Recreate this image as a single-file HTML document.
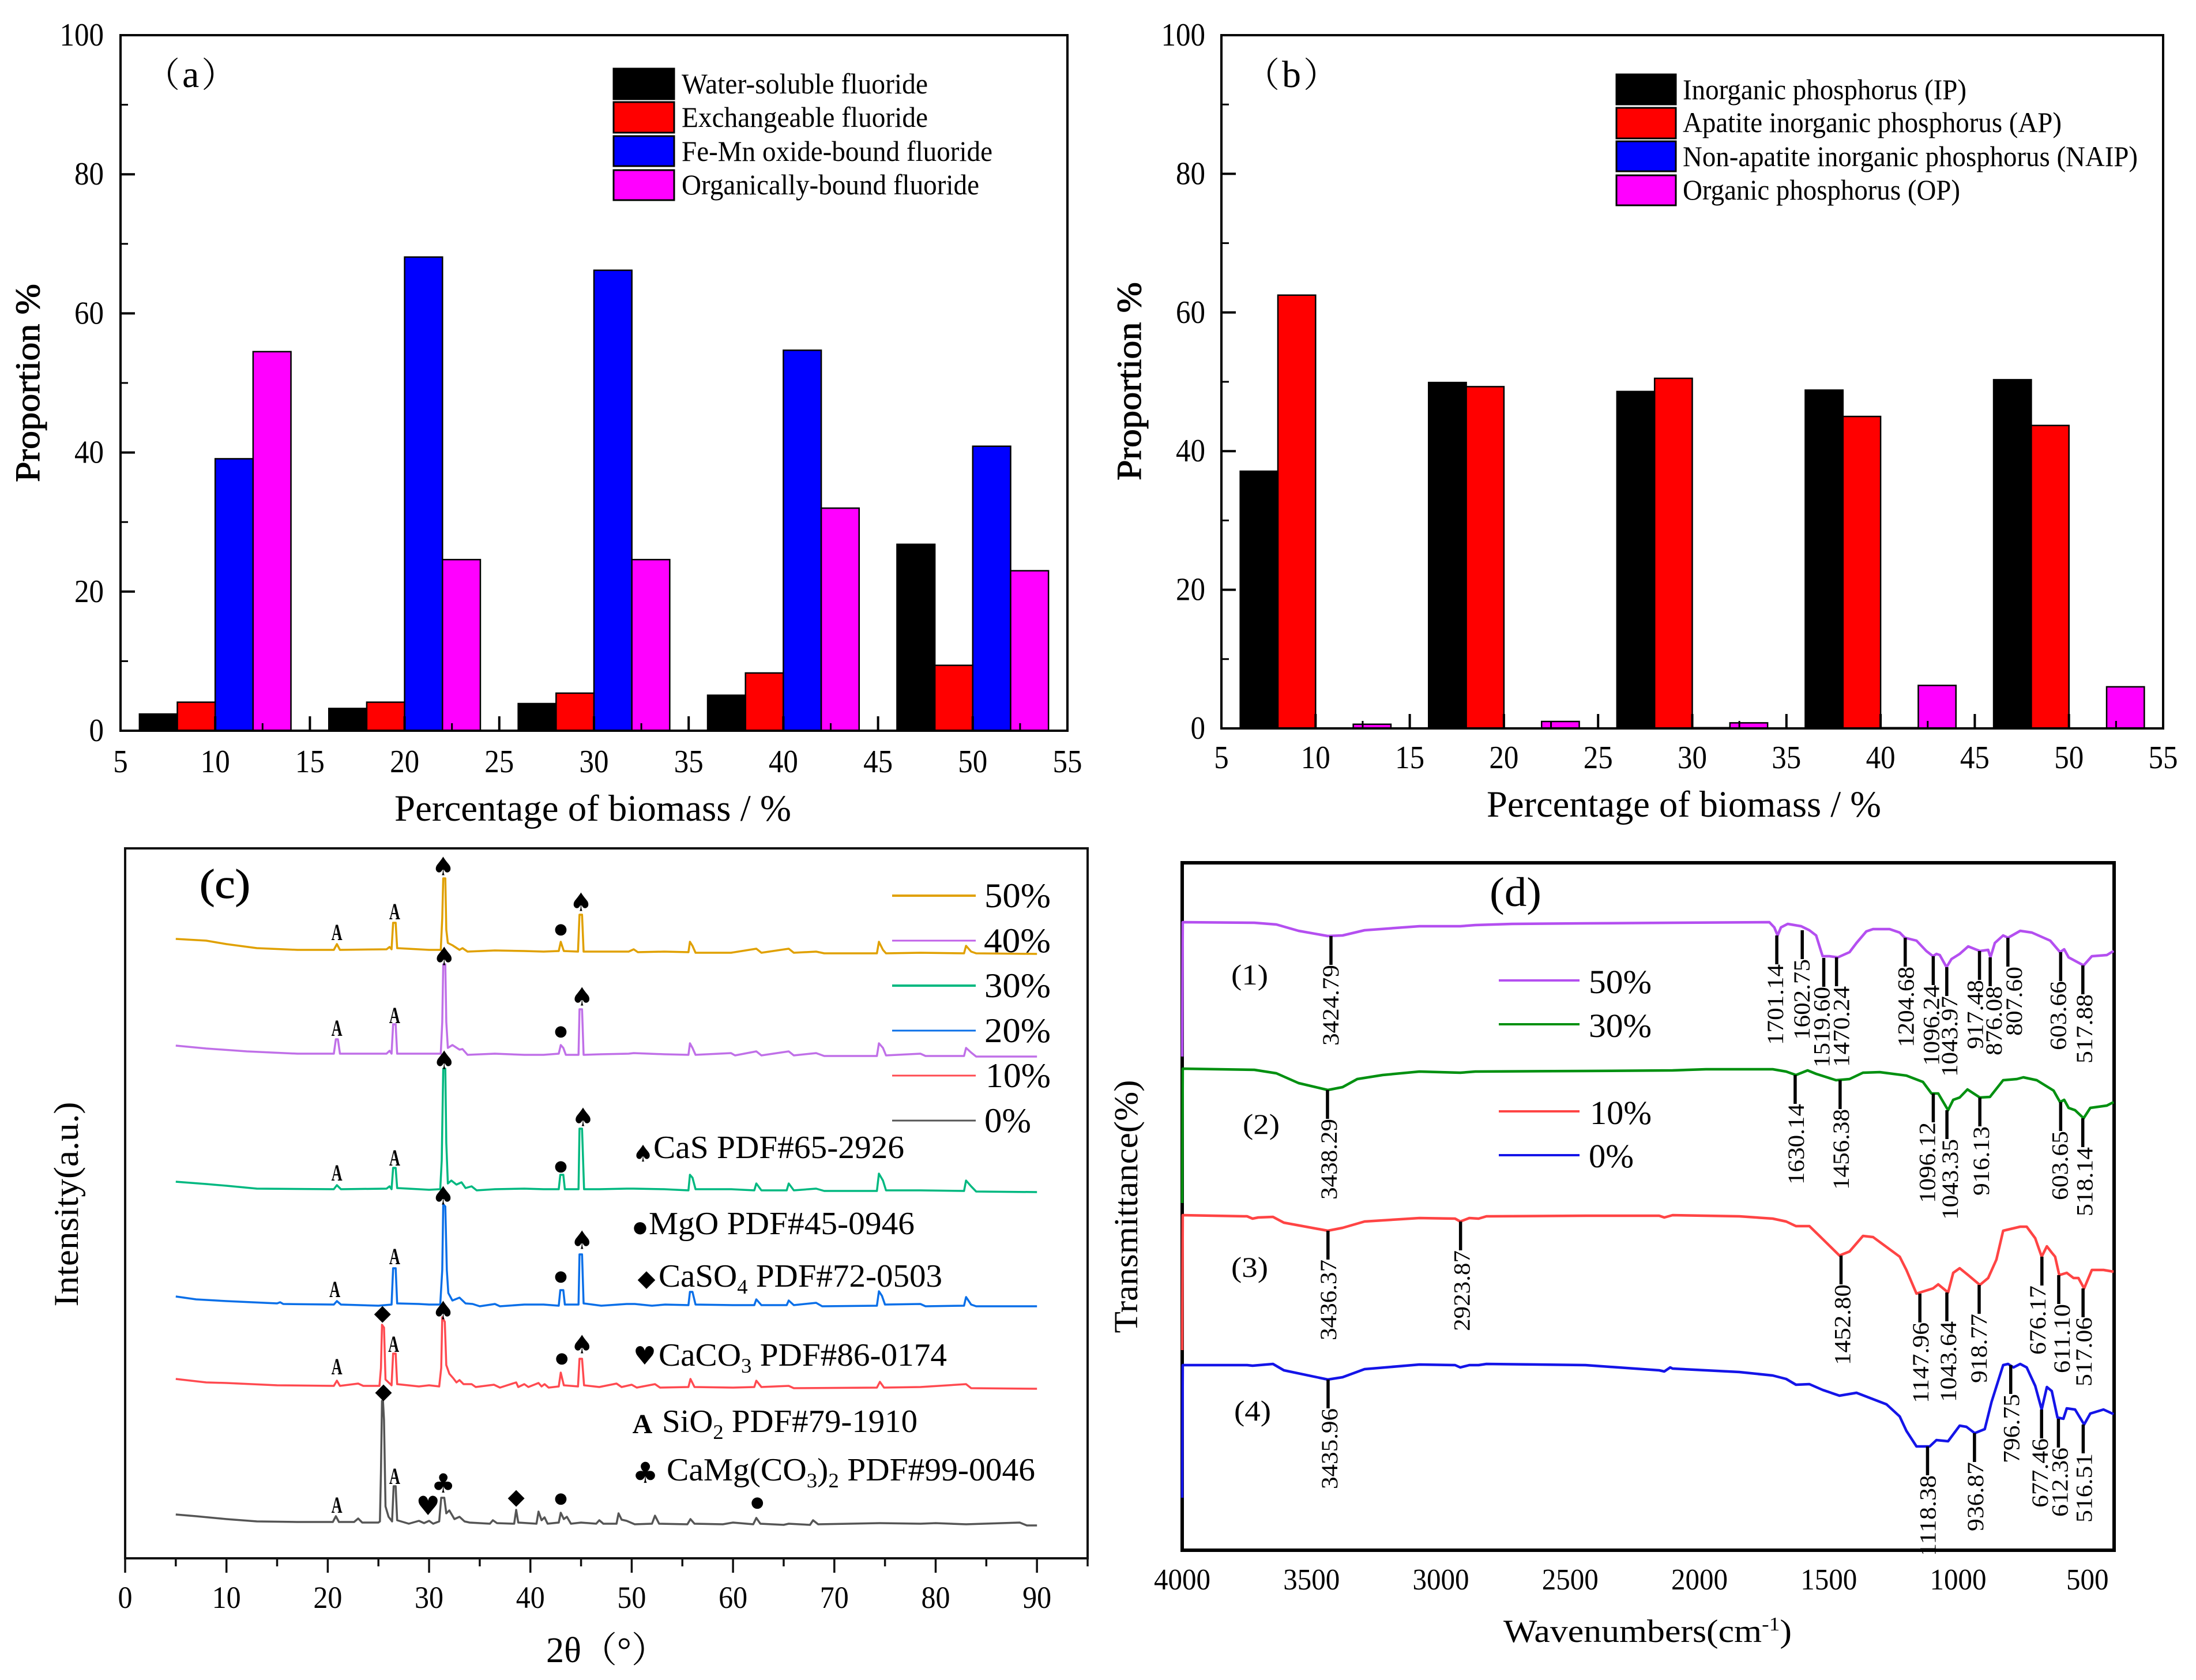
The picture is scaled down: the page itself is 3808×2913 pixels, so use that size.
<!DOCTYPE html>
<html lang="en">
<head>
<meta charset="utf-8">
<title>Biomass fluoride, phosphorus, XRD and FTIR figure</title>
<style>
html,body{margin:0;padding:0;background:#fff;}
svg{display:block;}
text{font-family:"Liberation Serif","Noto Serif CJK SC",serif;fill:#000;}
.sym{font-family:"DejaVu Sans",sans-serif;}
</style>
</head>
<body>
<svg id="figure" xmlns="http://www.w3.org/2000/svg" width="3808" height="2913" viewBox="0 0 3808 2913">
<rect x="0" y="0" width="3808" height="2913" fill="#fff"/>

<g id="panel-a">
  <g id="a-marks"></g>
  <text x="252" y="151" font-size="60">（<tspan font-size="66" dx="4">a</tspan><tspan dx="4">）</tspan></text>
  <text transform="translate(68,664) rotate(-90)" text-anchor="middle" font-size="60" textLength="344" lengthAdjust="spacingAndGlyphs" stroke="#000" stroke-width="1">Proportion %</text>
  <text x="684" y="1423" font-size="65" textLength="688" lengthAdjust="spacingAndGlyphs">Percentage of biomass / %</text>
  <g>
    <rect x="1064" y="119" width="105" height="53" fill="#000" stroke="#000" stroke-width="3"/>
    <rect x="1064" y="177" width="105" height="53" fill="#f00" stroke="#000" stroke-width="3"/>
    <rect x="1064" y="236" width="105" height="52" fill="#00f" stroke="#000" stroke-width="3"/>
    <rect x="1064" y="295" width="105" height="52" fill="#f0f" stroke="#000" stroke-width="3"/>
    <text x="1182" y="162" font-size="50" textLength="427" lengthAdjust="spacingAndGlyphs">Water-soluble fluoride</text>
    <text x="1182" y="220" font-size="50" textLength="427" lengthAdjust="spacingAndGlyphs">Exchangeable fluoride</text>
    <text x="1182" y="279" font-size="50" textLength="539" lengthAdjust="spacingAndGlyphs">Fe-Mn oxide-bound fluoride</text>
    <text x="1182" y="337" font-size="50" textLength="516" lengthAdjust="spacingAndGlyphs">Organically-bound fluoride</text>
  </g>
</g>

<g id="panel-b">
  <g id="b-marks"></g>
  <text x="2159" y="151" font-size="60">（<tspan font-size="66" dx="4">b</tspan><tspan dx="4">）</tspan></text>
  <text transform="translate(1978,661) rotate(-90)" text-anchor="middle" font-size="60" textLength="344" lengthAdjust="spacingAndGlyphs" stroke="#000" stroke-width="1">Proportion %</text>
  <text x="2578" y="1416" font-size="65" textLength="684" lengthAdjust="spacingAndGlyphs">Percentage of biomass / %</text>
  <g>
    <rect x="2803" y="129" width="103" height="52" fill="#000" stroke="#000" stroke-width="3"/>
    <rect x="2803" y="187" width="103" height="53" fill="#f00" stroke="#000" stroke-width="3"/>
    <rect x="2803" y="245" width="103" height="52" fill="#00f" stroke="#000" stroke-width="3"/>
    <rect x="2803" y="304" width="103" height="52" fill="#f0f" stroke="#000" stroke-width="3"/>
    <text x="2918" y="172" font-size="50" textLength="492" lengthAdjust="spacingAndGlyphs">Inorganic phosphorus (IP)</text>
    <text x="2918" y="229" font-size="50" textLength="657" lengthAdjust="spacingAndGlyphs">Apatite inorganic phosphorus (AP)</text>
    <text x="2918" y="288" font-size="50" textLength="789" lengthAdjust="spacingAndGlyphs">Non-apatite inorganic phosphorus (NAIP)</text>
    <text x="2918" y="346" font-size="50" textLength="481" lengthAdjust="spacingAndGlyphs">Organic phosphorus (OP)</text>
  </g>
</g>

<g id="panel-c">
  <g id="c-marks"></g>
  <text x="346" y="1557" font-size="72" textLength="88" lengthAdjust="spacingAndGlyphs" stroke="#000" stroke-width="1">(c)</text>
  <text transform="translate(135,2088) rotate(-90)" text-anchor="middle" font-size="60" textLength="355" lengthAdjust="spacingAndGlyphs">Intensity(a.u.)</text>
  <text x="947" y="2882" font-size="62" textLength="210" lengthAdjust="spacingAndGlyphs">2θ（°）</text>
  <g>
    <line x1="1547" x2="1692" y1="1553" y2="1553" stroke="#e0a000" stroke-width="4"/>
    <line x1="1547" x2="1692" y1="1631" y2="1631" stroke="#c060e8" stroke-width="3"/>
    <line x1="1547" x2="1692" y1="1709" y2="1709" stroke="#00b880" stroke-width="4"/>
    <line x1="1547" x2="1692" y1="1787" y2="1787" stroke="#0a6fe8" stroke-width="3"/>
    <line x1="1547" x2="1692" y1="1865" y2="1865" stroke="#ff4a50" stroke-width="3"/>
    <line x1="1547" x2="1692" y1="1943" y2="1943" stroke="#555" stroke-width="3"/>
    <text x="1707" y="1573" font-size="60" textLength="115" lengthAdjust="spacingAndGlyphs">50%</text>
    <text x="1706" y="1651" font-size="60" textLength="116" lengthAdjust="spacingAndGlyphs">40%</text>
    <text x="1707" y="1729" font-size="60" textLength="115" lengthAdjust="spacingAndGlyphs">30%</text>
    <text x="1707" y="1807" font-size="60" textLength="115" lengthAdjust="spacingAndGlyphs">20%</text>
    <text x="1709" y="1885" font-size="60" textLength="113" lengthAdjust="spacingAndGlyphs">10%</text>
    <text x="1707" y="1963" font-size="60" textLength="81" lengthAdjust="spacingAndGlyphs">0%</text>
  </g>
  <g>
    <text class="sym" x="1115" y="2014" font-size="40" text-anchor="middle">♠</text>
    <text x="1133" y="2008" font-size="56" textLength="435" lengthAdjust="spacingAndGlyphs">CaS PDF#65-2926</text>
    <text class="sym" x="1110" y="2137" font-size="28" text-anchor="middle">●</text>
    <text x="1125" y="2140" font-size="56" textLength="461" lengthAdjust="spacingAndGlyphs">MgO PDF#45-0946</text>
    <text class="sym" x="1121" y="2230" font-size="40" text-anchor="middle">◆</text>
    <text x="1142" y="2231" font-size="56" textLength="492" lengthAdjust="spacingAndGlyphs">CaSO<tspan font-size="36" dy="12">4</tspan><tspan dy="-12"> PDF#72-0503</tspan></text>
    <text class="sym" x="1118" y="2366" font-size="44" text-anchor="middle">♥</text>
    <text x="1142" y="2368" font-size="56" textLength="500" lengthAdjust="spacingAndGlyphs">CaCO<tspan font-size="36" dy="12">3</tspan><tspan dy="-12"> PDF#86-0174</tspan></text>
    <text x="1114" y="2485" font-size="48" font-weight="bold" text-anchor="middle">A</text>
    <text x="1148" y="2483" font-size="56" textLength="443" lengthAdjust="spacingAndGlyphs">SiO<tspan font-size="36" dy="12">2</tspan><tspan dy="-12"> PDF#79-1910</tspan></text>
    <text class="sym" x="1119" y="2571" font-size="50" text-anchor="middle">♣</text>
    <text x="1156" y="2567" font-size="56" textLength="639" lengthAdjust="spacingAndGlyphs">CaMg(CO<tspan font-size="36" dy="12">3</tspan><tspan dy="-12">)</tspan><tspan font-size="36" dy="12">2</tspan><tspan dy="-12"> PDF#99-0046</tspan></text>
  </g>
</g>

<g id="panel-d">
  <g id="d-marks"></g>
  <text x="2583" y="1571" font-size="72" textLength="90" lengthAdjust="spacingAndGlyphs">(d)</text>
  <text x="2135" y="1707" font-size="50" textLength="64" lengthAdjust="spacingAndGlyphs">(1)</text>
  <text x="2155" y="1966" font-size="50" textLength="64" lengthAdjust="spacingAndGlyphs">(2)</text>
  <text x="2135" y="2214" font-size="50" textLength="64" lengthAdjust="spacingAndGlyphs">(3)</text>
  <text x="2140" y="2463" font-size="50" textLength="64" lengthAdjust="spacingAndGlyphs">(4)</text>
  <text transform="translate(1972,2092) rotate(-90)" text-anchor="middle" font-size="58" textLength="439" lengthAdjust="spacingAndGlyphs">Transmittance(%)</text>
  <text x="2607" y="2847" font-size="56" textLength="500" lengthAdjust="spacingAndGlyphs">Wavenumbers(cm<tspan font-size="34" dy="-20">-1</tspan><tspan dy="20">)</tspan></text>
  <g>
    <line x1="2599" x2="2739" y1="1700" y2="1700" stroke="#b44ff0" stroke-width="4"/>
    <line x1="2599" x2="2739" y1="1776" y2="1776" stroke="#009010" stroke-width="4"/>
    <line x1="2599" x2="2739" y1="1927" y2="1927" stroke="#ff4444" stroke-width="4"/>
    <line x1="2599" x2="2739" y1="2003" y2="2003" stroke="#1414e8" stroke-width="4"/>
    <text x="2755" y="1722" font-size="58" textLength="109" lengthAdjust="spacingAndGlyphs">50%</text>
    <text x="2755" y="1798" font-size="58" textLength="109" lengthAdjust="spacingAndGlyphs">30%</text>
    <text x="2757" y="1949" font-size="58" textLength="107" lengthAdjust="spacingAndGlyphs">10%</text>
    <text x="2755" y="2024" font-size="58" textLength="78" lengthAdjust="spacingAndGlyphs">0%</text>
  </g>
</g>
</svg>

<script>
// ---------- Panel (a) data: proportion % ----------
const biomassGroups = [10, 20, 30, 40, 50];
const waterSoluble = [2.4, 3.2, 3.9, 5.1, 26.8];
const exchangeable = [4.1, 4.1, 5.4, 8.3, 9.4];
const feMnOxide = [39.1, 68.1, 66.2, 54.7, 40.9];
const organicallyBound = [54.5, 24.6, 24.6, 32, 23];

// ---------- Panel (b) data: proportion % ----------
const inorganicP = [37.1, 49.9, 48.6, 48.8, 50.3];
const apatiteP = [62.5, 49.3, 50.5, 45, 43.7];
const nonApatiteP = [0, 0, 0.1, 0.1, 0];
const organicP = [0.6, 1, 0.8, 6.2, 6];

// ---------- Shared bar tick labels ----------
const barXTicks = [5, 10, 15, 20, 25, 30, 35, 40, 45, 50, 55];
const barYTicks = [0, 20, 40, 60, 80, 100];

// ---------- Panel (c) data: [2-theta, intensity a.u.] ----------
const xrdTicks = [0, 10, 20, 30, 40, 50, 60, 70, 80, 90];
const xrd0 = [[5,76],[7,73],[10,68],[13,64],[17,63],[20.5,63],[20.8,73],[21.1,63],[22.6,63],[23,69],[23.4,62],[25,62],[25.15,64],[25.25,150],[25.35,273],[25.45,273],[25.55,240],[25.7,90],[26,72],[26.35,64],[26.5,125],[26.7,125],[26.85,66],[28,60],[29,65],[29.5,61],[30,65],[30.4,60],[31,64],[31.2,105],[31.5,105],[31.7,78],[32,83],[32.5,68],[33,72],[33.5,64],[34,62],[36,60],[36.3,66],[36.7,61],[38.4,60],[38.6,84],[38.8,62],[40.6,60],[40.8,81],[41.1,66],[41.4,71],[41.7,60],[42.8,62],[43,79],[43.3,68],[43.6,72],[44,60],[45,62],[46.5,60],[46.8,66],[47.2,60],[48.5,60],[48.7,78],[49,67],[49.5,65],[50.3,59],[52,60],[52.3,74],[52.7,60],[55.5,59],[55.8,68],[56.2,60],[59,59],[60,62],[62,59],[62.3,70],[62.7,60],[65,58],[65.5,60],[67.6,58],[67.9,66],[68.4,59],[71.5,60],[74.5,61],[78.5,60],[80,61],[83,59],[88.3,62],[89,57],[90,57]];
const xrd10 = [[5,311],[8,305],[10,304],[15,300],[20.6,299],[20.9,308],[21.2,299],[23,303],[23.5,299],[25.1,299],[25.25,330],[25.35,405],[25.55,400],[25.7,310],[26.3,300],[26.45,355],[26.7,355],[26.85,302],[29,298],[30,300],[31,298],[31.2,330],[31.3,418],[31.55,410],[31.7,335],[32,320],[32.4,312],[32.7,305],[33,309],[33.4,302],[34.2,302],[34.6,297],[36.4,301],[37,296],[38.6,305],[38.8,297],[39.4,302],[39.8,297],[40.8,304],[41.1,298],[41.4,302],[41.8,296],[42.8,298],[43,322],[43.3,300],[44.7,298],[44.85,346],[45.1,346],[45.3,300],[46.8,297],[48.5,303],[49,297],[50,301],[50.5,296],[52.3,302],[52.8,296],[55.6,297],[55.8,311],[56.2,297],[60,296],[62.1,297],[62.3,308],[62.8,297],[65.5,299],[66,295],[74.2,296],[74.5,306],[74.9,296],[78.5,297],[83,302],[83.5,295],[90,294]];
const xrd20 = [[5,454],[7,449],[10,446],[15,442],[15.3,444],[15.6,441],[20.6,440],[20.9,446],[21.3,440],[25,438],[26.3,440],[26.45,503],[26.7,503],[26.85,442],[29,441],[30,440],[31.1,440],[31.3,500],[31.4,614],[31.6,610],[31.75,500],[31.9,460],[32.3,447],[33,452],[33.6,442],[34.3,441],[35,437],[36.5,441],[37,437],[39.4,440],[41.3,440],[42.8,438],[42.95,465],[43.25,465],[43.4,440],[44.75,440],[44.85,527],[45.1,527],[45.25,442],[47,438],[49.5,441],[50.3,441],[52,438],[53.3,440],[55.6,439],[55.75,462],[56,462],[56.3,440],[60,439],[62.1,439],[62.3,449],[62.8,439],[65.3,439],[65.5,447],[66,439],[68.2,443],[68.8,437],[74.2,438],[74.4,463],[74.7,455],[75,440],[78.5,441],[79,437],[82.8,438],[83,453],[83.5,440],[84,437],[90,437]];
const xrd30 = [[5,653],[8,649],[10,646],[13,641],[20.6,640],[20.9,647],[21.3,640],[25.8,641],[26.1,645],[26.3,640],[26.45,677],[26.7,677],[26.85,642],[29,640],[30,639],[31.1,640],[31.25,690],[31.4,849],[31.6,849],[31.7,720],[31.85,650],[32.2,655],[32.7,648],[33.2,652],[33.6,642],[34.2,645],[34.7,638],[36.5,640],[39.4,641],[41.3,640],[42.8,640],[42.95,665],[43.25,665],[43.4,640],[44.75,640],[44.85,745],[45.1,745],[45.3,640],[46.8,640],[49.5,641],[50.2,641],[53.2,640],[55.6,638],[55.75,665],[56,660],[56.3,640],[59.8,640],[62.1,638],[62.3,650],[62.8,638],[65.3,638],[65.5,650],[66,638],[68.2,641],[69,637],[74.2,637],[74.4,667],[74.8,655],[75.1,638],[78.5,638],[82.8,637],[83,655],[83.5,645],[84,636],[90,635]];
const xrd40 = [[5,889],[8,884],[12,879],[17,875],[20.6,875],[20.8,900],[21,900],[21.2,875],[25.8,875],[26.1,880],[26.3,875],[26.45,926],[26.7,926],[26.85,875],[30,875],[31.15,875],[31.3,930],[31.4,1030],[31.6,1030],[31.7,930],[31.85,885],[32.3,890],[33,882],[33.3,883],[33.8,873],[36.5,875],[39.4,873],[41.3,873],[42.8,875],[43,890],[43.25,885],[43.5,873],[44.75,873],[44.85,952],[45.1,952],[45.25,873],[47,874],[49.7,875],[50.2,876],[53.2,874],[55.6,873],[55.75,893],[56,885],[56.3,873],[59.8,876],[60.2,872],[62.3,879],[62.8,872],[65.5,879],[66,872],[68.2,876],[69,871],[74.2,871],[74.4,893],[74.8,885],[75.1,872],[78.5,875],[79,871],[82.8,871],[83,885],[83.5,877],[84,870],[90,870]];
const xrd50 = [[5,1074],[8,1071],[10,1065],[13,1058],[17,1055],[20.6,1055],[20.9,1065],[21.2,1055],[25.8,1056],[26.1,1060],[26.3,1056],[26.45,1102],[26.7,1102],[26.85,1058],[30,1055],[31.15,1055],[31.3,1110],[31.4,1179],[31.6,1179],[31.7,1090],[31.85,1067],[32.3,1063],[33,1055],[33.3,1058],[33.8,1052],[36.5,1054],[39.4,1053],[41.3,1052],[42.8,1053],[43,1069],[43.3,1053],[44.7,1052],[44.85,1116],[45.1,1116],[45.25,1052],[47,1052],[49.7,1052],[50.2,1056],[50.6,1051],[53.2,1052],[55.6,1051],[55.75,1069],[56,1062],[56.3,1050],[59.8,1050],[62.3,1057],[62.8,1050],[65.5,1057],[66,1050],[68.2,1052],[69,1049],[74.2,1049],[74.4,1069],[74.8,1055],[75.1,1049],[78.5,1050],[82.8,1049],[83,1062],[83.5,1052],[84,1049],[90,1048]];
// Phase symbols: [symbol, 2-theta, intensity a.u.]
const xrdPhaseMarks = [
 ["A",20.9,1085],["A",26.6,1121],["♠",31.4,1199],["●",43,1091],["♠",45,1137],
 ["A",20.9,919],["A",26.6,941],["♠",31.5,1043],["●",43,914],["♠",45.1,973],
 ["A",20.9,668],["A",26.6,694],["♠",31.5,863],["●",43,680],["♠",45.2,764],
 ["A",20.7,466],["A",26.6,523],["♠",31.4,628],["●",43,489],["♠",45.1,551],
 ["A",20.9,332],["◆",25.4,426],["A",26.5,371],["♠",31.4,429],["●",43.1,347],["♠",45.1,370],
 ["A",20.9,92],["◆",25.5,290],["A",26.6,142],["♥",29.9,91],["♣",31.4,130],["◆",38.6,107],["●",43,104],["●",62.4,97]
];

// ---------- Panel (d) data: [wavenumber, transmittance a.u.] ----------
const ftirTicks = [4000, 3500, 3000, 2500, 2000, 1500, 1000, 500];
const ftir50 = [[4000,856],[3998,1089],[3721,1088],[3636,1085],[3550,1074],[3437,1065],[3380,1066],[3295,1075],[3083,1082],[2925,1082],[2867,1084],[2725,1086],[2441,1087],[2104,1088],[1730,1089],[1711,1080],[1698,1066],[1685,1080],[1659,1086],[1607,1082],[1575,1075],[1549,1066],[1524,1030],[1498,1030],[1465,1028],[1420,1037],[1393,1053],[1355,1073],[1329,1077],[1265,1077],[1226,1071],[1206,1062],[1161,1057],[1123,1039],[1097,1030],[1084,1034],[1071,1032],[1045,1011],[1026,1025],[994,1034],[961,1047],[916,1039],[884,1041],[875,1028],[858,1053],[826,1066],[807,1062],[760,1074],[715,1071],[644,1057],[606,1037],[590,1042],[573,1028],[515,1014],[483,1030],[425,1032],[399,1039]];
const ftir30 = [[4000,602],[3998,835],[3721,833],[3636,827],[3550,810],[3437,798],[3380,803],[3323,817],[3225,824],[3083,830],[2925,828],[2867,830],[2441,831],[2104,832],[1975,834],[1717,834],[1665,830],[1627,824],[1582,832],[1549,826],[1472,815],[1420,817],[1368,828],[1303,829],[1200,823],[1136,812],[1103,792],[1077,792],[1039,763],[1019,781],[994,785],[964,799],[916,785],[877,786],[826,815],[773,817],[748,820],[696,815],[631,797],[606,777],[590,781],[573,767],[548,763],[515,749],[489,767],[425,771],[399,777]];
const ftir10 = [[4000,347],[3998,581],[3749,579],[3728,575],[3706,577],[3649,578],[3607,568],[3437,554],[3380,559],[3295,570],[3083,576],[2945,575],[2925,570],[2890,576],[2854,575],[2824,579],[2441,580],[2156,580],[2136,577],[2104,581],[1846,579],[1717,575],[1665,570],[1627,562],[1575,562],[1536,545],[1459,511],[1420,518],[1368,545],[1329,543],[1226,509],[1200,486],[1161,445],[1097,454],[1077,461],[1039,447],[1019,481],[994,489],[961,477],[916,460],[884,472],[852,504],[826,554],[760,561],[735,561],[702,541],[677,509],[657,527],[638,516],[625,509],[609,477],[580,481],[554,472],[535,472],[513,454],[483,486],[438,486],[399,483]];
const ftir0 = [[4000,91],[3998,321],[3749,321],[3728,320],[3649,323],[3607,312],[3437,296],[3380,300],[3295,314],[3083,322],[2945,321],[2925,317],[2890,321],[2854,321],[2824,323],[2441,321],[2156,312],[2136,310],[2113,317],[2104,315],[1846,309],[1717,303],[1665,297],[1627,287],[1575,288],[1524,278],[1459,268],[1393,273],[1277,253],[1226,232],[1200,207],[1161,180],[1110,180],[1084,191],[1039,189],[994,216],[968,214],[936,203],[897,210],[871,257],[826,321],[807,323],[786,317],[760,323],[735,317],[702,285],[677,244],[657,283],[638,276],[616,230],[593,228],[580,246],[548,244],[513,218],[489,237],[438,244],[399,236]];
// Printed peak labels: [label, curve transmittance at the peak]
const ftirPeaks50 = [["3424.79",1065],["1701.14",1066],["1602.75",1075],["1519.60",1027],["1470.24",1028],["1204.68",1062],["1096.24",1030],["1043.97",1011],["917.48",1039],["876.08",1028],["807.60",1062],["603.66",1037],["517.88",1014]];
const ftirPeaks30 = [["3438.29",798],["1630.14",824],["1456.38",815],["1096.12",792],["1043.35",763],["916.13",785],["603.65",777],["518.14",749]];
const ftirPeaks10 = [["3436.37",554],["2923.87",570],["1452.80",511],["1147.96",445],["1043.64",447],["918.77",460],["676.17",509],["611.10",477],["517.06",454]];
const ftirPeaks0 = [["3435.96",296],["1118.38",180],["936.87",203],["796.75",321],["677.46",244],["612.36",228],["516.51",218]];

const SVGNS = "http://www.w3.org/2000/svg";
function makeLine(parent, x1, y1, x2, y2, stroke, width) {
  const n = document.createElementNS(SVGNS, "line");
  n.setAttribute("x1", x1); n.setAttribute("y1", y1);
  n.setAttribute("x2", x2); n.setAttribute("y2", y2);
  n.setAttribute("stroke", stroke); n.setAttribute("stroke-width", width);
  parent.appendChild(n);
  return n;
}
function makeRect(parent, x, y, w, h, fill, stroke, sw) {
  const n = document.createElementNS(SVGNS, "rect");
  n.setAttribute("x", x); n.setAttribute("y", y);
  n.setAttribute("width", w); n.setAttribute("height", h);
  n.setAttribute("fill", fill); n.setAttribute("stroke", stroke); n.setAttribute("stroke-width", sw);
  parent.appendChild(n);
  return n;
}
function makeText(parent, str, x, y, size, anchor, len) {
  const n = document.createElementNS(SVGNS, "text");
  n.setAttribute("x", x); n.setAttribute("y", y);
  n.setAttribute("font-size", size); n.setAttribute("text-anchor", anchor);
  if (len) { n.setAttribute("textLength", len); n.setAttribute("lengthAdjust", "spacingAndGlyphs"); }
  n.textContent = str;
  parent.appendChild(n);
  return n;
}
function makePath(parent, pts, xf, yf, stroke, width) {
  const n = document.createElementNS(SVGNS, "polyline");
  n.setAttribute("points", pts.map(function (p) { return xf(p[0]).toFixed(1) + "," + yf(p[1]).toFixed(1); }).join(" "));
  n.setAttribute("fill", "none"); n.setAttribute("stroke", stroke);
  n.setAttribute("stroke-width", width); n.setAttribute("stroke-linejoin", "round");
  parent.appendChild(n);
  return n;
}

function drawBarPanel(groupId, frame, series, colors, seriesNames, tickBaseY, yLabelRight) {
  const g = document.getElementById(groupId);
  const xs = function (v) { return frame.l + (v - 5) * (frame.r - frame.l) / 50; };
  const ys = function (v) { return frame.b - v * (frame.b - frame.t) / 100; };
  series.forEach(function (vals, s) {
    vals.forEach(function (v, i) {
      const left = biomassGroups[i] - 4 + s * 2;
      const bar = makeRect(g, xs(left), ys(v), xs(left + 2) - xs(left), frame.b - ys(v), colors[s], "#000", 2.5);
      
      
    });
  });
  barXTicks.forEach(function (t, i) {
    const major = makeLine(g, xs(t), frame.b, xs(t), frame.b - 25, "#000", 4);
    
    
    if (i < barXTicks.length - 1) {
      const minor = makeLine(g, xs(t + 2.5), frame.b, xs(t + 2.5), frame.b - 13, "#000", 3);
      
      
    }
    const lab = makeText(g, String(t), xs(t), tickBaseY, 56, "middle", String(t).length * 25.5);
    
    
  });
  barYTicks.forEach(function (t, i) {
    const major = makeLine(g, frame.l, ys(t), frame.l + 25, ys(t), "#000", 4);
    
    
    if (i < barYTicks.length - 1) {
      const minor = makeLine(g, frame.l, ys(t + 10), frame.l + 13, ys(t + 10), "#000", 3);
      
      
    }
    const lab = makeText(g, String(t), yLabelRight, ys(t) + 18, 56, "end", String(t).length * 25.5);
    
    
  });
  const box = makeRect(g, frame.l, frame.t, frame.r - frame.l, frame.b - frame.t, "none", "#000", 4);
  
  
}

drawBarPanel("a-marks", { l: 209, r: 1851, t: 61, b: 1267 },
  [waterSoluble, exchangeable, feMnOxide, organicallyBound],
  ["#000", "#f00", "#00f", "#f0f"],
  ["water-soluble", "exchangeable", "fe-mn-oxide", "organically-bound"], 1339, 180);
drawBarPanel("b-marks", { l: 2118, r: 3751, t: 61, b: 1263 },
  [inorganicP, apatiteP, nonApatiteP, organicP],
  ["#000", "#f00", "#00f", "#f0f"],
  ["inorganic-p", "apatite-p", "non-apatite-p", "organic-p"], 1332, 2090);

// ---------- Panel (c) ----------
(function () {
  const g = document.getElementById("c-marks");
  const F = { l: 217, r: 1886, t: 1471, b: 2702 };
  const xs = function (v) { return F.l + v * (F.r - F.l) / 95; };
  const ys = function (u) { return F.b - u; };
  const list = [[xrd0, "#555", "0"], [xrd10, "#ff4a50", "10"], [xrd20, "#0a6fe8", "20"], [xrd30, "#00b880", "30"], [xrd40, "#c070e8", "40"], [xrd50, "#e0a000", "50"]];
  list.forEach(function (it) {
    const line = makePath(g, it[0], xs, ys, it[1], 3.5);
    
    
  });
  const symbolSize = { "♠": 44, "♣": 46, "♥": 46, "◆": 38, "●": 26, "A": 40 };
  xrdPhaseMarks.forEach(function (m) {
    const isA = m[0] === "A";
    const t = isA
      ? makeText(g, m[0], xs(m[1]), ys(m[2]) + 13, symbolSize[m[0]], "middle", 19)
      : makeText(g, m[0], xs(m[1]), ys(m[2]), symbolSize[m[0]], "middle");
    if (isA) { t.setAttribute("font-weight", "bold"); } else { t.setAttribute("class", "sym"); t.setAttribute("dominant-baseline", "central"); }
    
    
  });
  xrdTicks.forEach(function (t) {
    const major = makeLine(g, xs(t), F.b, xs(t), F.b + 25, "#111", 3.5);
    
    
    const minor = makeLine(g, xs(t + 5), F.b, xs(t + 5), F.b + 14, "#111", 3.5);
    
    
    const lab = makeText(g, String(t), xs(t), 2788, 54, "middle", String(t).length * 25);
    
    
  });
  const box = makeRect(g, F.l, F.t, F.r - F.l, F.b - F.t, "none", "#111", 4);
  
  
})();

// ---------- Panel (d) ----------
(function () {
  const g = document.getElementById("d-marks");
  const F = { l: 2050, r: 3666, t: 1496, b: 2688 };
  const xs = function (w) { return F.l + (4000 - w) * (F.r - F.l) / 3603; };
  const ys = function (T) { return F.b - T; };
  const labelNudge = { "1701.14": -2, "1519.60": -3, "1470.24": 9, "1204.68": 2, "1096.24": -3, "1043.97": 5, "917.48": -7, "876.08": 7, "807.60": 11, "603.66": -4, "517.88": 3, "3438.29": 3, "1630.14": 2, "1456.38": 2, "1096.12": -10, "1043.35": 6, "916.13": 3, "603.65": -1, "518.14": 4, "3436.37": 1, "2923.87": 3, "1452.80": 3, "1147.96": 2, "1043.64": 3, "676.17": -7, "611.10": 6, "517.06": 2, "3435.96": 3, "1118.38": 1, "936.87": 2, "796.75": 2, "677.46": -2, "612.36": 3, "516.51": 2 };
  const box = makeRect(g, F.l, F.t, F.r - F.l, F.b - F.t, "none", "#000", 6);
  
  
  const list = [[ftir50, "#b44ff0", "50"], [ftir30, "#009010", "30"], [ftir10, "#ff4444", "10"], [ftir0, "#1414e8", "0"]];
  list.forEach(function (it) {
    const line = makePath(g, it[0], xs, ys, it[1], 4.5);
    
    
  });
  [ftirPeaks50, ftirPeaks30, ftirPeaks10, ftirPeaks0].forEach(function (peaks) {
    peaks.forEach(function (p) {
      const x = xs(parseFloat(p[0]));
      const top = ys(p[1]);
      const stem = makeLine(g, x, top, x, top + 50, "#000", 5.5);
      
      
      const nudge = labelNudge[p[0]] || 0;
      const len = p[0].length === 7 ? 140 : 120;
      const t = makeText(g, p[0], 0, 0, 40, "end", len);
      t.setAttribute("transform", "translate(" + (x + nudge + 13).toFixed(1) + "," + (top + 50).toFixed(1) + ") rotate(-90)");
      
      
    });
  });
  ftirTicks.forEach(function (t) {
    const lab = makeText(g, String(t), xs(t), 2756, 52, "middle", String(t).length * 24.5);
    
    
  });
})();
</script>
</body>
</html>
